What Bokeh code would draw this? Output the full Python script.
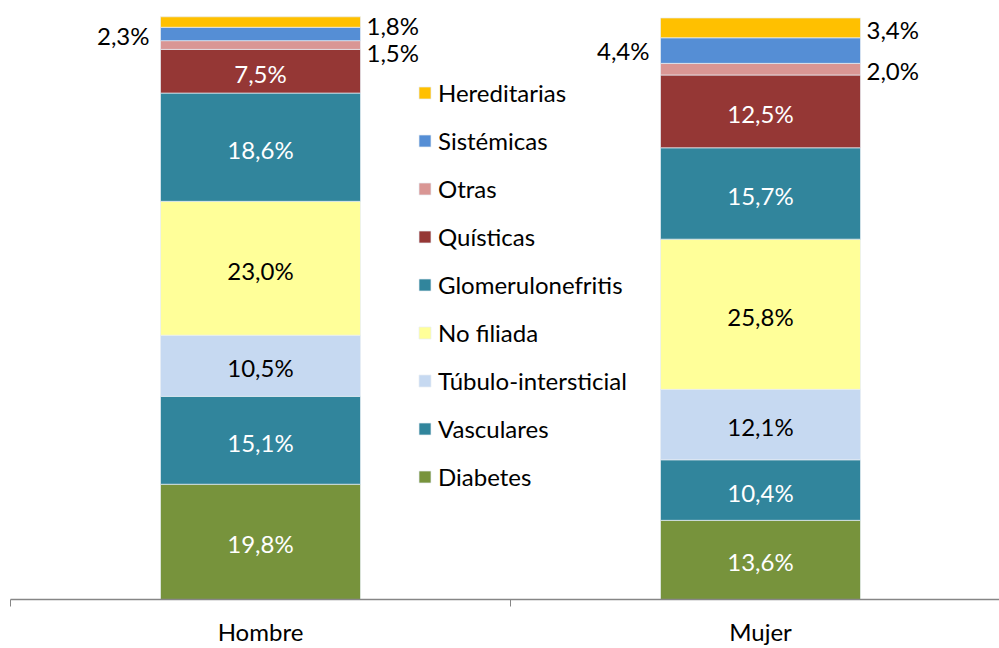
import numpy as np
from bokeh.plotting import figure
from bokeh.models import ColumnDataSource, Range1d, FixedTicker, Legend, LegendItem
from bokeh.core.properties import value
from bokeh.embed import file_html
from bokeh.resources import INLINE

categories = ["Hombre", "Mujer"]
series = ["Diabetes", "Vasculares", "Túbulo-intersticial", "No filiada",
          "Glomerulonefritis", "Quísticas", "Otras", "Sistémicas", "Hereditarias"]
hombre = [19.8, 15.1, 10.5, 23.0, 18.6, 7.5, 1.5, 2.3, 1.8]
mujer = [13.6, 10.4, 12.1, 25.8, 15.7, 12.5, 2.0, 4.4, 3.4]
colors = ["#77933C", "#31859C", "#C6D9F1", "#FFFF99", "#31859C",
          "#953735", "#D99694", "#558ED5", "#FFC000"]
label_colors = ["white", "white", "black", "black", "white", "white", "black", "black", "black"]
# where the label of each series is put: inside, left or right of the bar
label_side = ["in", "in", "in", "in", "in", "in", "right", "left", "right"]
# small vertical nudges (px) of labels, per category
label_nudge = {"Hombre": [2, 2, 2, 2, 2, 2, 7, 2, 3],
               "Mujer": [2, 2, 2, 2, 2, 2, 1, 0, 2]}

FONT = "Lato"
FS = "24px"
BAR_W = 0.4

values = {"Hombre": hombre, "Mujer": mujer}
x_pos = [i + 0.5 for i in range(len(categories))]
data = {"x": x_pos}
for k, s in enumerate(series):
    data[s] = [values[c][k] for c in categories]
src = ColumnDataSource(data)

p = figure(width=999, height=648, output_backend="svg", toolbar_location=None,
           x_range=Range1d(0, 1.978), y_range=Range1d(0, 102.9),
           y_axis_location=None,
           min_border_left=10, min_border_right=0, min_border_top=0, min_border_bottom=48)
p.outline_line_color = None
p.xgrid.visible = False
p.ygrid.visible = False
p.background_fill_color = "white"

rs = p.vbar_stack(series, x="x", width=BAR_W, color=colors, line_color="#E8EEF4",
                  line_width=0.7, source=src)

# labels
ins = dict(x=[], y=[], text=[], color=[], dy=[])
lft = dict(x=[], y=[], text=[], dy=[])
rgt = dict(x=[], y=[], text=[], dy=[])
for i, c in enumerate(categories):
    v = np.array(values[c])
    bottoms = np.concatenate([[0], np.cumsum(v)[:-1]])
    centers = bottoms + v / 2
    for k in range(len(series)):
        txt = f"{v[k]:.1f}".replace(".", ",") + "%"
        if label_side[k] == "in":
            ins["x"].append(x_pos[i]); ins["y"].append(centers[k])
            ins["text"].append(txt); ins["color"].append(label_colors[k])
            ins["dy"].append(label_nudge[c][k])
        elif label_side[k] == "left":
            lft["x"].append(x_pos[i] - BAR_W / 2); lft["y"].append(centers[k])
            lft["text"].append(txt); lft["dy"].append(label_nudge[c][k])
        else:
            rgt["x"].append(x_pos[i] + BAR_W / 2); rgt["y"].append(centers[k])
            rgt["text"].append(txt); rgt["dy"].append(label_nudge[c][k])

p.text(x="x", y="y", text="text", text_color="color", y_offset="dy",
       source=ColumnDataSource(ins),
       text_align="center", text_baseline="middle",
       text_font=value(FONT), text_font_size=FS)
p.text(x="x", y="y", text="text", y_offset="dy", source=ColumnDataSource(lft),
       text_align="right", text_baseline="middle", x_offset=-11, text_color="black",
       text_font=value(FONT), text_font_size=FS)
p.text(x="x", y="y", text="text", y_offset="dy", source=ColumnDataSource(rgt),
       text_align="left", text_baseline="middle", x_offset=6, text_color="black",
       text_font=value(FONT), text_font_size=FS)

# axis
ax = p.xaxis[0]
ax.ticker = FixedTicker(ticks=x_pos, minor_ticks=[float(i) for i in range(len(categories) + 1)])
ax.major_label_overrides = {x_pos[i]: categories[i] for i in range(len(categories))}
ax.major_tick_line_color = None
ax.major_tick_out = 0
ax.major_tick_in = 0
ax.minor_tick_line_color = "#868686"
ax.minor_tick_out = 7
ax.minor_tick_in = 0
ax.axis_line_color = "#868686"
ax.axis_line_width = 1.5
ax.major_label_text_font = FONT
ax.major_label_text_font_size = FS
ax.major_label_text_color = "black"
ax.major_label_standoff = 10

# legend, top item = last series
items = [LegendItem(label=series[k], renderers=[rs[k]]) for k in reversed(range(len(series)))]
legend = Legend(items=items, location=(407, 108), orientation="vertical",
                glyph_width=15, glyph_height=15, label_standoff=6,
                label_height=29, spacing=19, padding=0, margin=0,
                border_line_color=None, background_fill_alpha=0,
                label_text_font=FONT, label_text_font_size=FS, label_text_color="black")
p.add_layout(legend, "center")

open("out.html", "w").write(file_html(p, INLINE))
